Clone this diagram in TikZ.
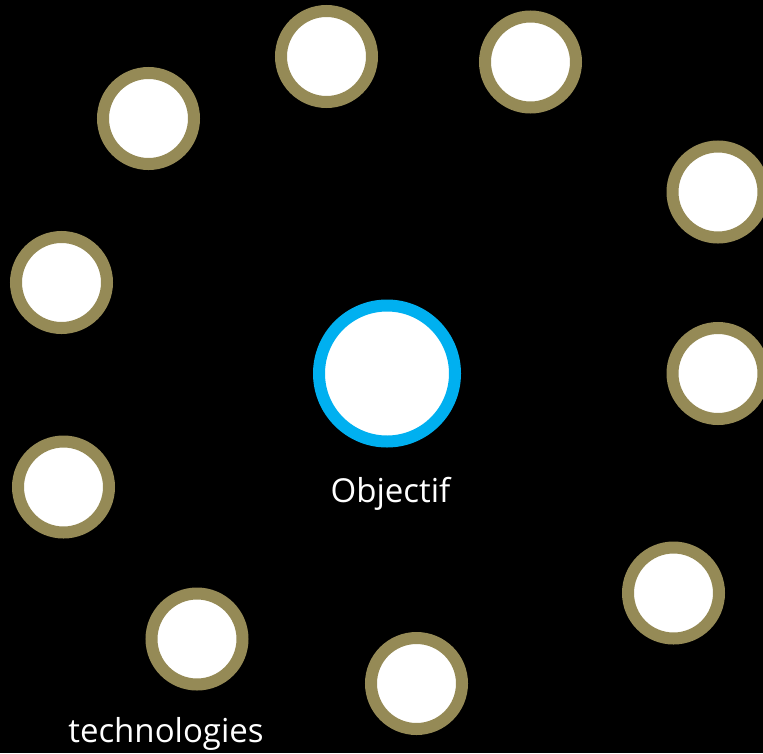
\documentclass[tikz,border=0pt]{standalone}
\usepackage{fontspec}
\setmainfont{Open Sans}
\usetikzlibrary{positioning}
\definecolor{olive}{HTML}{958A56}
\definecolor{skyblue}{HTML}{00B0F0}
\tikzset{
	bubble/.style={
		circle,
		draw=olive, line width=12pt,
		fill=white,
		minimum size=91pt,
		inner sep=0pt,
	},
	goal/.style={
		bubble,
		draw=skyblue,
		minimum size=136pt,
	},
	caption/.style={
		text=white,
		font=\fontsize{33}{38}\selectfont,
		inner sep=0pt,
	},
}

\begin{document}
\begin{tikzpicture}[x=1pt, y=-1pt]
\fill[black] (0,0) rectangle (763,753);
\useasboundingbox (0,0) rectangle (763,753);

\node	(center)	[goal]		at (387,373.5)	{};
\node	(centerlabel)	[caption, anchor=base]	at (390.5,502)	{Objectif};

\node	(b1)	[bubble]	at (326.5,56.5)	{};
\node	(b2)	[bubble]	at (530.5,62)	{};
\node	(b3)	[bubble]	at (148.5,118.5)	{};
\node	(b4)	[bubble]	at (718,192)	{};
\node	(b5)	[bubble]	at (61.5,282.5)	{};
\node	(b6)	[bubble]	at (718,373.5)	{};
\node	(b7)	[bubble]	at (63.5,487)	{};
\node	(b8)	[bubble]	at (673.5,593)	{};
\node	(tech)	[bubble]	at (197,639)	{};
\node	(b10)	[bubble]	at (416.5,683.5)	{};

\node	(techlabel)	[caption, anchor=base]	at (166,742)	{technologies};

\end{tikzpicture}
\end{document}
